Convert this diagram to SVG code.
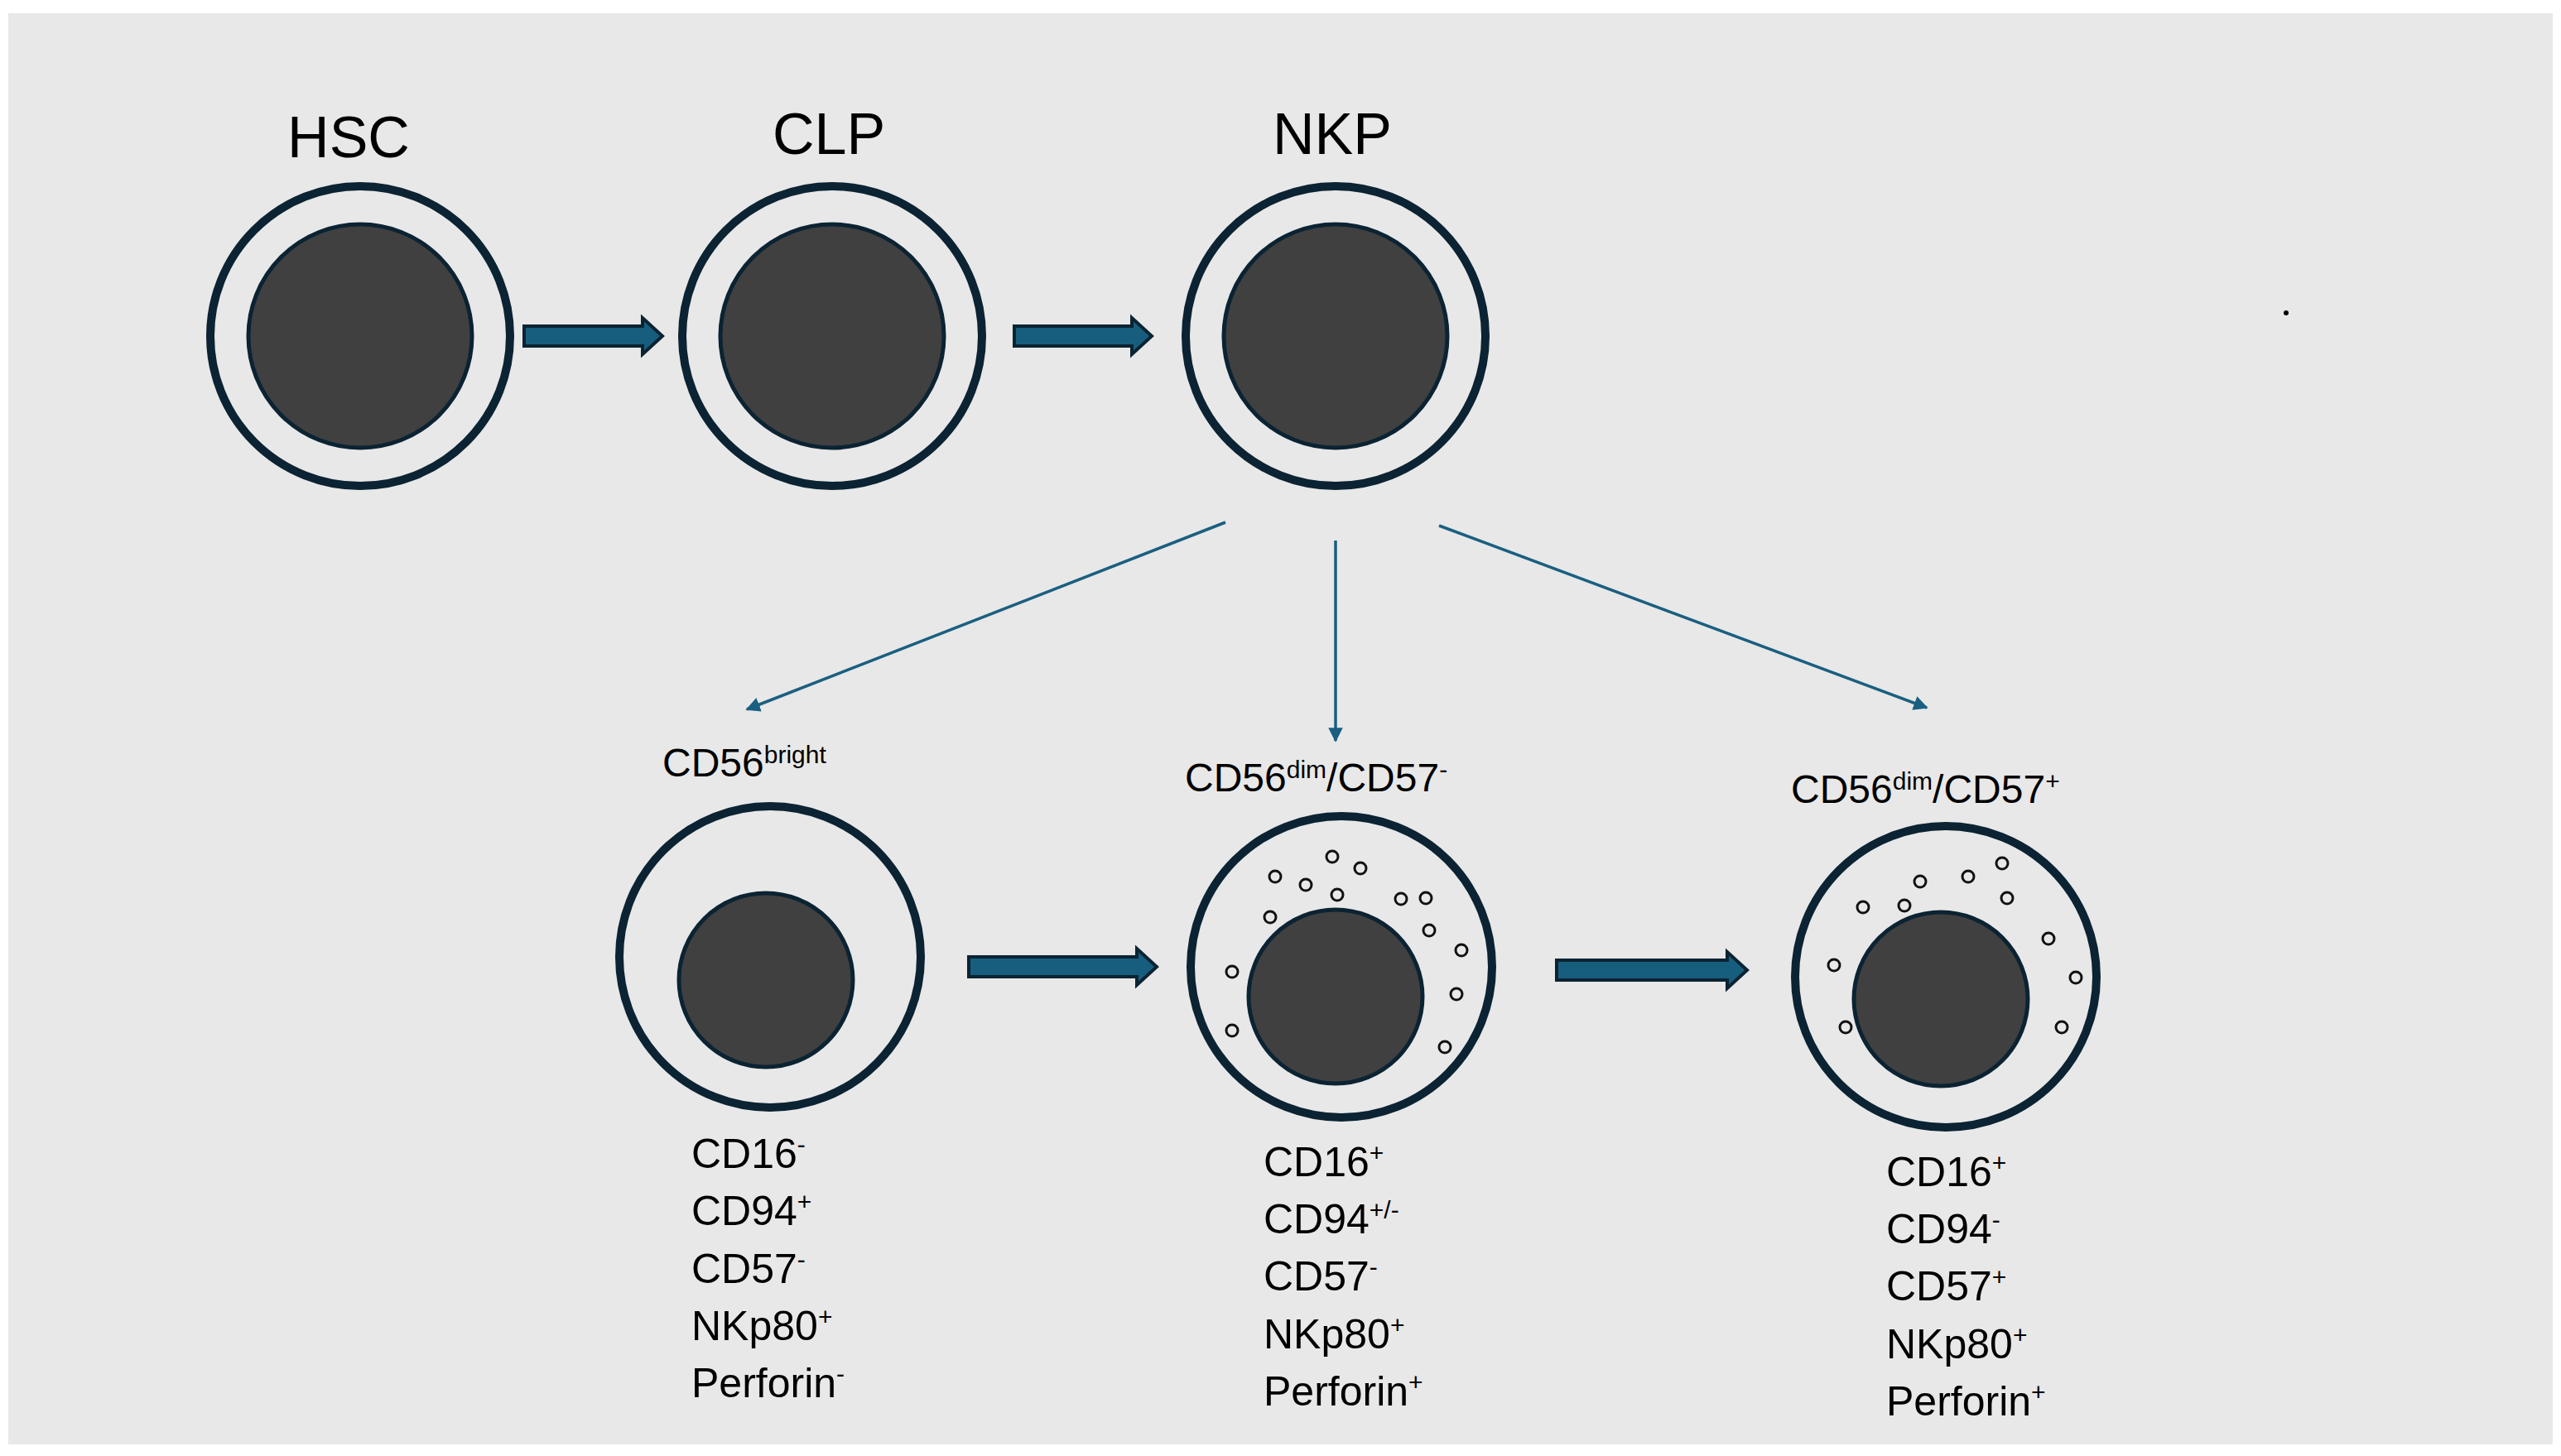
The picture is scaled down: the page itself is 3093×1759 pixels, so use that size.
<svg xmlns="http://www.w3.org/2000/svg" width="3093" height="1759" viewBox="0 0 3093 1759">
<defs>
<style>
.out{fill:none;stroke:#0b2332;stroke-width:10}
.nuc{fill:#404040;stroke:#0b2332;stroke-width:5}
.dot{fill:none;stroke:#111;stroke-width:3}
.big{fill:#175e7e;stroke:#0b2332;stroke-width:4}
.thin{stroke:#1a5f80;stroke-width:3.5;fill:none;marker-end:url(#ah)}
text{font-family:"Liberation Sans",Arial,sans-serif;fill:#000}
.t1{font-size:70px;text-anchor:middle}
.t2{font-size:48px}
.t3{font-size:50px}
.s{font-size:30px}
</style>
<marker id="ah" viewBox="0 0 10 10" refX="9" refY="5" markerWidth="5" markerHeight="5" orient="auto"><path d="M0,0L10,5L0,10Z" fill="#1a5f80"/></marker>
</defs>
<rect x="0" y="0" width="3093" height="1759" fill="#fff"/>
<rect x="10" y="16" width="3073" height="1729" fill="#e8e8e8"/>
<circle cx="2761" cy="378" r="3" fill="#000"/>
<g id="HSC"><circle class="out" cx="435" cy="406" r="181"/><circle class="nuc" cx="435" cy="406" r="135"/><text class="t1" x="421" y="190">HSC</text></g>
<g id="CLP"><circle class="out" cx="1005" cy="406" r="181"/><circle class="nuc" cx="1005" cy="406" r="135"/><text class="t1" x="1001" y="186">CLP</text></g>
<g id="NKP"><circle class="out" cx="1613" cy="406" r="181"/><circle class="nuc" cx="1613" cy="406" r="135"/><text class="t1" x="1609" y="186">NKP</text></g>
<g id="bright"><circle class="out" cx="930" cy="1156" r="182"/><circle class="nuc" cx="925" cy="1184" r="105"/>
<text class="t2" x="800" y="938">CD56<tspan class="s" dy="-16">bright</tspan></text>
<text class="t3" x="835" y="1411">CD16<tspan class="s" dy="-18">-</tspan></text>
<text class="t3" x="835" y="1480">CD94<tspan class="s" dy="-18">+</tspan></text>
<text class="t3" x="835" y="1550">CD57<tspan class="s" dy="-18">-</tspan></text>
<text class="t3" x="835" y="1619">NKp80<tspan class="s" dy="-18">+</tspan></text>
<text class="t3" x="835" y="1688">Perforin<tspan class="s" dy="-18">-</tspan></text></g>
<g id="dim57neg"><circle class="out" cx="1620" cy="1168" r="182"/><circle class="nuc" cx="1613" cy="1204" r="105"/>
<g class="dot"><circle cx="1609" cy="1035" r="7"/><circle cx="1643" cy="1049" r="7"/><circle cx="1540" cy="1059" r="7"/><circle cx="1577" cy="1069" r="7"/><circle cx="1615" cy="1081" r="7"/><circle cx="1692" cy="1086" r="7"/><circle cx="1722" cy="1085" r="7"/><circle cx="1534" cy="1108" r="7"/><circle cx="1726" cy="1124" r="7"/><circle cx="1765" cy="1148" r="7"/><circle cx="1488" cy="1174" r="7"/><circle cx="1759" cy="1201" r="7"/><circle cx="1488" cy="1245" r="7"/><circle cx="1745" cy="1265" r="7"/></g>
<text class="t2" x="1431" y="956">CD56<tspan class="s" dy="-16">dim</tspan><tspan dy="16">/CD57</tspan><tspan class="s" dy="-16">-</tspan></text>
<text class="t3" x="1526" y="1421">CD16<tspan class="s" dy="-18">+</tspan></text>
<text class="t3" x="1526" y="1490">CD94<tspan class="s" dy="-18">+/-</tspan></text>
<text class="t3" x="1526" y="1559">CD57<tspan class="s" dy="-18">-</tspan></text>
<text class="t3" x="1526" y="1629">NKp80<tspan class="s" dy="-18">+</tspan></text>
<text class="t3" x="1526" y="1698">Perforin<tspan class="s" dy="-18">+</tspan></text></g>
<g id="dim57pos"><circle class="out" cx="2350" cy="1180" r="182"/><circle class="nuc" cx="2344" cy="1207" r="105"/>
<g class="dot"><circle cx="2418" cy="1043" r="7"/><circle cx="2377" cy="1059" r="7"/><circle cx="2319" cy="1065" r="7"/><circle cx="2300" cy="1094" r="7"/><circle cx="2250" cy="1096" r="7"/><circle cx="2424" cy="1085" r="7"/><circle cx="2474" cy="1134" r="7"/><circle cx="2215" cy="1166" r="7"/><circle cx="2507" cy="1181" r="7"/><circle cx="2229" cy="1241" r="7"/><circle cx="2490" cy="1241" r="7"/></g>
<text class="t2" x="2163" y="970">CD56<tspan class="s" dy="-16">dim</tspan><tspan dy="16">/CD57</tspan><tspan class="s" dy="-16">+</tspan></text>
<text class="t3" x="2278" y="1433">CD16<tspan class="s" dy="-18">+</tspan></text>
<text class="t3" x="2278" y="1502">CD94<tspan class="s" dy="-18">-</tspan></text>
<text class="t3" x="2278" y="1571">CD57<tspan class="s" dy="-18">+</tspan></text>
<text class="t3" x="2278" y="1641">NKp80<tspan class="s" dy="-18">+</tspan></text>
<text class="t3" x="2278" y="1710">Perforin<tspan class="s" dy="-18">+</tspan></text></g>
<g id="connectors">
<polygon class="big" points="633,394 776,394 776,384 800,406 776,428 776,418 633,418"/>
<polygon class="big" points="1225,394 1367,394 1367,384 1391,406 1367,428 1367,418 1225,418"/>
<polygon class="big" points="1170,1156 1373,1156 1373,1146 1397,1168 1373,1190 1373,1180 1170,1180"/>
<polygon class="big" points="1880,1160 2086,1160 2086,1150 2110,1172 2086,1194 2086,1184 1880,1184"/>
<line class="thin" x1="1480" y1="631" x2="902" y2="857"/>
<line class="thin" x1="1613" y1="653" x2="1613" y2="895"/>
<line class="thin" x1="1738" y1="635" x2="2327" y2="855"/>
</g>
</svg>
